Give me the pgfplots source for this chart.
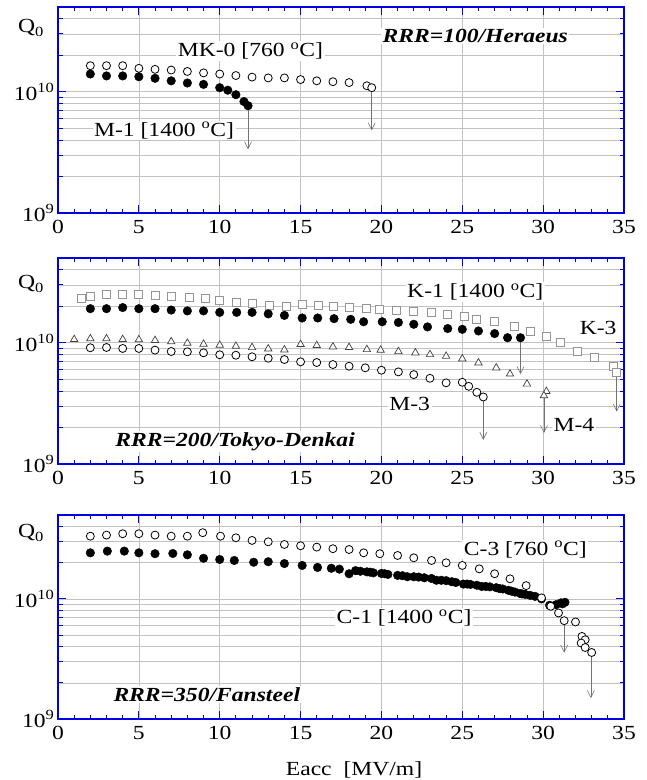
\documentclass[border=0pt]{standalone}
\usepackage{fontspec}
\setmainfont{Liberation Serif}
\usepackage{graphicx}
\usepackage{pgfplots}
\pgfplotsset{compat=1.18}
\usetikzlibrary{arrows.meta}

\newcommand\sx[1]{\scalebox{1.18}[1]{#1}}
\newcommand\dC{\textsuperscript{o}C}
\newcommand\fs{\fontsize{20}{23}\selectfont}

\tikzset{lab/.style={font=\fs, fill=white, inner sep=1.5pt}}

\pgfplotsset{
  qpanel/.style={
    scale only axis, width=566pt, anchor=south west,
    xmin=0, xmax=35, ymin=1e9, ymax=5e10,
    xtick={0,5,10,15,20,25,30,35}, minor x tick num=4,
    xticklabels={\sx{0},\sx{5},\sx{10},\sx{15},\sx{20},\sx{25},\sx{30},\sx{35}},
    ytick={1e9,1e10},
    yticklabels={\sx{10\textsuperscript{9}},\sx{10\textsuperscript{10}}},
    minor ytick={2e9,3e9,4e9,5e9,6e9,7e9,8e9,9e9,2e10,3e10,4e10},
    xmajorgrids, ymajorgrids, yminorgrids,
    major grid style={black!24, line width=0.6pt},
    minor grid style={black!24, line width=0.6pt},
    tick align=inside, tick pos=both, ticklabel pos=left,
    major tick length=8pt, minor tick length=4.5pt,
    axis line style={blue!90!black, line width=1.1pt},
    tick style={blue!90!black, line width=0.9pt},
    ticklabel style={font=\fs},
    xticklabel style={yshift=-4pt},
    clip=false,
  },
  filled/.style={only marks, mark=*, mark size=4.3pt, black},
  open/.style={only marks, mark=*, mark size=4pt, mark options={fill=white, draw=black, line width=0.8pt}},
  sq/.style={only marks, mark=square*, mark size=4pt, mark options={fill=white, draw=black!42, line width=0.8pt}},
  tri/.style={only marks, mark=triangle*, mark size=4.3pt, mark options={fill=white, draw=black!75, line width=0.7pt}},
  arr/.style={mark=none, black!55, line width=0.6pt, -{Straight Barb[length=7pt,width=7pt]}},
}

\begin{document}
\begin{tikzpicture}
\useasboundingbox (0,0) rectangle (647pt,780pt);

% ---------- panel 1 : RRR=100 ----------
\begin{semilogyaxis}[qpanel, height=206pt, at={(58pt,567pt)}]
\addplot[open] coordinates {
(2,1.64e10) (3,1.64e10) (4,1.64e10) (5,1.56e10) (6,1.53e10) (7,1.51e10)
(8,1.47e10) (9,1.43e10) (10,1.40e10) (11,1.36e10) (12,1.32e10) (13,1.30e10)
(14,1.30e10) (15,1.26e10) (16,1.23e10) (17,1.21e10) (18,1.19e10) (19.1,1.12e10)
(19.4,1.08e10)
};
\addplot[filled] coordinates {
(2,1.40e10) (3,1.35e10) (4,1.35e10) (5,1.33e10) (6,1.29e10) (7,1.23e10)
(8,1.18e10) (9,1.15e10) (10,1.08e10) (10.5,1.03e10) (11,9.45e9) (11.5,8.3e9)
(11.75,7.67e9)
};
\addplot[arr] coordinates {(19.4,1.03e10) (19.4,4.8e9)};
\addplot[arr] coordinates {(11.75,7.3e9) (11.75,3.35e9)};
\node[lab] at (axis cs:11.9,2.17e10) {\sx{MK-0 [760 \dC]}};
\node[lab] at (axis cs:6.56,4.79e9) {\sx{M-1 [1400 \dC]}};
\node[lab] at (axis cs:25.8,2.88e10) {\sx{\textbf{\textit{RRR=100/Heraeus}}}};
\end{semilogyaxis}

% ---------- panel 2 : RRR=200 ----------
\begin{semilogyaxis}[qpanel, height=206pt, at={(58pt,316pt)}]
\addplot[sq] coordinates {
(1.46,2.33e10) (2,2.39e10) (3,2.50e10) (4,2.50e10) (5,2.50e10) (6,2.45e10)
(7,2.43e10) (8.15,2.36e10) (9.1,2.32e10) (10,2.23e10) (11.05,2.14e10) (12,2.10e10)
(13.1,2.03e10) (14.1,1.99e10) (15.1,2.07e10) (16.1,2.03e10) (17.05,2.00e10) (18,1.94e10)
(19.05,1.92e10) (19.9,1.89e10) (20.95,1.86e10) (22,1.82e10) (23.1,1.77e10) (24.1,1.72e10)
(25.1,1.66e10) (25.9,1.56e10) (27,1.49e10) (28.2,1.37e10) (29.2,1.23e10) (30.2,1.12e10)
(31.05,1.00e10) (32.1,8.42e9) (33.2,7.51e9) (34.35,6.32e9) (34.55,5.64e9)
};
\addplot[filled] coordinates {
(2,1.91e10) (3,1.91e10) (4,1.95e10) (5,1.91e10) (6,1.91e10) (7,1.86e10)
(8,1.83e10) (9,1.83e10) (10,1.78e10) (11.05,1.78e10) (12,1.78e10) (13,1.73e10)
(14,1.68e10) (15.1,1.60e10) (16.06,1.60e10) (17.07,1.58e10) (18.1,1.56e10) (18.9,1.49e10)
(20.05,1.49e10) (21.05,1.47e10) (22,1.42e10) (22.85,1.35e10) (24.1,1.31e10) (25,1.29e10)
(26,1.25e10) (27,1.19e10) (27.8,1.10e10) (28.6,1.10e10)
};
\addplot[tri] coordinates {
(1,1.065e10) (2,1.08e10) (3,1.08e10) (4,1.065e10) (5,1.06e10) (6,1.045e10)
(7,1.02e10) (8,9.93e9) (9,9.73e9) (10,9.55e9) (11,9.37e9) (12,9.14e9)
(13,8.91e9) (14,8.75e9) (15,9.68e9) (16,9.50e9) (17,9.26e9) (18,9.15e9)
(19.1,8.80e9) (19.95,8.69e9) (21.05,8.47e9) (22.1,8.26e9) (23,8.0e9) (24,7.74e9)
(25,7.37e9) (26,6.83e9) (27.1,6.21e9) (27.95,5.53e9) (29,4.57e9) (30.2,3.97e9)
(30.05,3.66e9)
};
\addplot[open] coordinates {
(2,9.09e9) (3,9.14e9) (4,8.97e9) (5,8.97e9) (6,8.69e9) (7,8.47e9)
(8,8.42e9) (9,8.26e9) (10,7.96e9) (11,7.89e9) (12,7.66e9) (13,7.45e9)
(14,7.27e9) (15,6.96e9) (16,6.87e9) (17,6.61e9) (18,6.40e9) (19,6.21e9)
(20,5.93e9) (21.05,5.75e9) (22,5.46e9) (23,5.09e9) (24,4.67e9) (25,4.72e9)
(25.4,4.37e9) (25.9,3.90e9) (26.3,3.57e9)
};
\addplot[arr] coordinates {(28.6,1.05e10) (28.6,5.5e9)};
\addplot[arr] coordinates {(34.55,5.4e9) (34.55,2.7e9)};
\addplot[arr] coordinates {(26.3,3.42e9) (26.3,1.58e9)};
\addplot[arr] coordinates {(30.05,3.87e9) (30.05,1.80e9)};
\node[lab] at (axis cs:25.8,2.63e10) {\sx{K-1 [1400 \dC]}};
\node[lab] at (axis cs:33.4,1.33e10) {\sx{K-3}};
\node[lab] at (axis cs:21.75,3.14e9) {\sx{M-3}};
\node[lab] at (axis cs:31.9,2.10e9) {\sx{M-4}};
\node[lab] at (axis cs:10.95,1.53e9) {\sx{\textbf{\textit{RRR=200/Tokyo-Denkai}}}};
\end{semilogyaxis}

% ---------- panel 3 : RRR=350 ----------
\begin{semilogyaxis}[qpanel, height=204pt, at={(58pt,61pt)}]
\addplot[filled] coordinates {
(2,2.42e10) (3.05,2.50e10) (4.1,2.50e10) (5,2.42e10) (6,2.38e10) (7.1,2.39e10)
(8,2.33e10) (9,2.18e10) (10,2.13e10) (10.9,2.09e10) (12.1,2.02e10) (13,2.04e10)
(14,1.97e10) (15.1,1.90e10) (16.05,1.83e10) (16.9,1.80e10) (17.4,1.77e10) (18,1.62e10)
(18.4,1.72e10) (18.7,1.70e10) (19.1,1.68e10) (19.3,1.67e10) (19.5,1.65e10) (20,1.63e10)
(20.2,1.62e10) (20.4,1.60e10) (21,1.57e10) (21.3,1.56e10) (21.6,1.53e10) (22,1.53e10)
(22.3,1.52e10) (22.65,1.50e10) (23.1,1.48e10) (23.4,1.43e10) (23.7,1.43e10) (24,1.42e10)
(24.35,1.39e10) (24.6,1.37e10) (25.07,1.33e10) (25.3,1.33e10) (25.5,1.32e10) (25.9,1.30e10)
(26.2,1.27e10) (26.45,1.27e10) (26.7,1.26e10) (27.1,1.24e10) (27.3,1.22e10) (27.5,1.21e10)
(27.85,1.18e10) (28.05,1.16e10) (28.26,1.14e10) (28.57,1.11e10) (28.7,1.10e10) (28.9,1.09e10)
(29.2,1.07e10) (29.5,1.05e10) (29.9,1.00e10) (30.4,8.85e9) (30.8,8.96e9) (31.1,9.26e9)
(31.2,9.1e9) (31.35,9.37e9)
};
\addplot[open] coordinates {
(2,3.33e10) (3,3.40e10) (4,3.49e10) (5,3.49e10) (6,3.40e10) (7,3.33e10)
(8,3.33e10) (8.95,3.56e10) (10.05,3.33e10) (11,3.23e10) (12,3.07e10) (13,2.99e10)
(14,2.84e10) (15,2.77e10) (16,2.70e10) (17,2.62e10) (18,2.58e10) (18.9,2.42e10)
(19.9,2.38e10) (21,2.30e10) (22,2.20e10) (23.1,2.09e10) (24,2.00e10) (25,1.90e10)
(26.05,1.78e10) (27,1.62e10) (27.95,1.47e10) (28.95,1.29e10) (29.9,1.02e10) (30.47,8.68e9)
(30.95,7.64e9) (31.3,6.59e9) (32,6.43e9) (32.4,4.87e9) (32.6,4.57e9) (32.35,4.29e9)
(32.6,3.94e9) (33.0,3.58e9)
};
\addplot[arr] coordinates {(31.3,6.3e9) (31.3,3.56e9)};
\addplot[arr] coordinates {(32.95,3.42e9) (32.95,1.49e9)};
\node[lab] at (axis cs:28.9,2.58e10) {\sx{C-3 [760 \dC]}};
\node[lab] at (axis cs:21.4,6.93e9) {\sx{C-1 [1400 \dC]}};
\node[lab] at (axis cs:9.2,1.59e9) {\sx{\textbf{\textit{RRR=350/Fansteel}}}};
\end{semilogyaxis}

% ---------- shared labels ----------
\node[font=\fs] at (31pt,752pt) {\sx{Q\textsubscript{0}}};
\node[font=\fs] at (31pt,496pt) {\sx{Q\textsubscript{0}}};
\node[font=\fs] at (31pt,247pt) {\sx{Q\textsubscript{0}}};
\node[font=\fs] at (354pt,10pt) {\sx{Eacc\ \ [MV/m]}};
\end{tikzpicture}
\end{document}
